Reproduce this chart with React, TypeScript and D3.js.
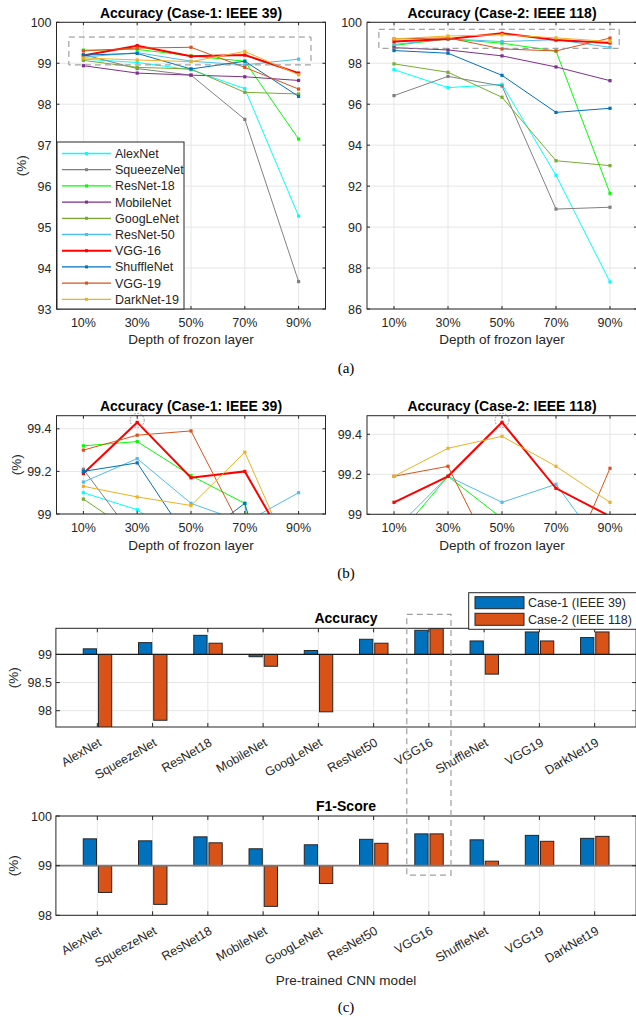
import React, { useEffect, useRef } from "react";
import * as d3 from "d3";

const FONT = "'Liberation Sans', Arial, Helvetica, sans-serif";
const SERIF = "'Liberation Serif', 'Times New Roman', serif";
const INK = "#262626";
const GRID = "#e6e6e6";

// x categories of the line charts
const depthLabels = ["10%", "30%", "50%", "70%", "90%"];

const lineModels = ["AlexNet", "SqueezeNet", "ResNet-18", "MobileNet", "GoogLeNet", "ResNet-50", "VGG-16", "ShuffleNet", "VGG-19", "DarkNet-19"];
const lineColors = ["#00FFFF", "#808080", "#00FF00", "#7E2F8E", "#77AC30", "#4DBEEE", "#FF0000", "#0072BD", "#D95319", "#EDB120"];

// accuracy (%) per frozen depth, Case-1: IEEE 39
const case1Acc = [
  [99.10, 99.02, 98.84, 98.38, 95.27],
  [99.21, 98.87, 98.71, 97.63, 93.67],
  [99.32, 99.34, 99.18, 99.05, 97.15],
  [98.94, 98.76, 98.71, 98.67, 98.58],
  [99.07, 98.90, 98.86, 98.29, 98.25],
  [99.15, 99.26, 99.05, 98.96, 99.10],
  [99.19, 99.43, 99.17, 99.20, 98.76],
  [99.20, 99.24, 98.86, 99.05, 98.19],
  [99.30, 99.37, 99.39, 98.90, 98.37],
  [99.13, 99.08, 99.04, 99.29, 98.72],
];

// accuracy (%) per frozen depth, Case-2: IEEE 118
const case2Acc = [
  [97.69, 96.81, 96.97, 92.53, 87.32],
  [96.42, 97.36, 96.89, 90.88, 90.97],
  [98.87, 99.19, 98.98, 98.60, 91.65],
  [98.76, 98.65, 98.36, 97.82, 97.15],
  [97.97, 97.56, 96.34, 93.24, 93.00],
  [98.92, 99.19, 99.06, 99.15, 98.78],
  [99.06, 99.19, 99.46, 99.13, 98.99],
  [98.62, 98.49, 97.41, 95.60, 95.80],
  [99.19, 99.24, 98.70, 98.60, 99.23],
  [99.19, 99.33, 99.39, 99.24, 99.06],
];

const case1Ticks = [93, 94, 95, 96, 97, 98, 99, 100];
const case2Ticks = [86, 88, 90, 92, 94, 96, 98, 100];
const zoomTicks = [99, 99.2, 99.4];

// bar charts
const barModels = ["AlexNet", "SqueezeNet", "ResNet18", "MobileNet", "GoogLeNet", "ResNet50", "VGG16", "ShuffleNet", "VGG19", "DarkNet19"];
const accCase1 = [99.10, 99.21, 99.34, 98.96, 99.07, 99.27, 99.43, 99.24, 99.40, 99.30];
const accCase2 = [97.69, 97.83, 99.20, 98.79, 97.98, 99.20, 99.46, 98.65, 99.24, 99.40];
const f1Case1 = [99.54, 99.50, 99.58, 99.34, 99.42, 99.53, 99.64, 99.52, 99.61, 99.55];
const f1Case2 = [98.46, 98.22, 99.46, 98.18, 98.64, 99.45, 99.64, 99.09, 99.49, 99.59];
const accTicks = [98, 98.5, 99];
const f1Ticks = [98, 99, 100];
const caseNames = ["Case-1 (IEEE 39)", "Case-2 (IEEE 118)"];
const caseColors = ["#0072BD", "#D95319"];

type Sel = d3.Selection<SVGSVGElement, unknown, null, undefined>;

interface LineCfg {
  id: string;
  left: number; right: number; top: number; bottom: number;
  yDomain: [number, number];
  yTicks: number[];
  series: number[][];
  title: string;
  titleY: number;
  xTickY: number;
  xLabelY: number;
  yLabelX?: number;
  zoomBox?: { x: [number, number]; y: [number, number] };
  circle?: [number, number];
}

function drawLinePanel(svg: Sel, cfg: LineCfg) {
  const x = d3.scaleLinear().domain([0.5, 5.5]).range([cfg.left, cfg.right]);
  const y = d3.scaleLinear().domain(cfg.yDomain).range([cfg.bottom, cfg.top]);
  const g = svg.append("g");

  g.append("rect").attr("x", cfg.left).attr("y", cfg.top)
    .attr("width", cfg.right - cfg.left).attr("height", cfg.bottom - cfg.top).attr("fill", "#fff");

  // grid
  g.selectAll(null).data(cfg.yTicks).enter().append("line")
    .attr("x1", cfg.left).attr("x2", cfg.right)
    .attr("y1", d => y(d)).attr("y2", d => y(d))
    .attr("stroke", GRID);
  g.selectAll(null).data(depthLabels).enter().append("line")
    .attr("x1", (d, i) => x(i + 1)).attr("x2", (d, i) => x(i + 1))
    .attr("y1", cfg.top).attr("y2", cfg.bottom)
    .attr("stroke", GRID);

  svg.append("clipPath").attr("id", cfg.id).append("rect")
    .attr("x", cfg.left).attr("y", cfg.top)
    .attr("width", cfg.right - cfg.left).attr("height", cfg.bottom - cfg.top);
  const lg = g.append("g").attr("clip-path", `url(#${cfg.id})`);

  const line = d3.line<number>().x((d, i) => x(i + 1)).y(d => y(d));
  cfg.series.forEach((vals, k) => {
    lg.append("path").attr("d", line(vals)!)
      .attr("fill", "none").attr("stroke", lineColors[k])
      .attr("stroke-width", k === 6 ? 2 : 1);
    lg.selectAll(null).data(vals).enter().append("rect")
      .attr("x", (d, i) => x(i + 1) - 1.6).attr("y", d => y(d) - 1.6)
      .attr("width", 3.2).attr("height", 3.2).attr("fill", lineColors[k]);
  });

  if (cfg.zoomBox) {
    const b = cfg.zoomBox;
    g.append("rect")
      .attr("x", x(b.x[0])).attr("y", y(b.y[1]))
      .attr("width", x(b.x[1]) - x(b.x[0])).attr("height", y(b.y[0]) - y(b.y[1]))
      .attr("fill", "none").attr("stroke", "#8c8c8c").attr("stroke-width", 1)
      .attr("stroke-dasharray", "6,4");
  }
  if (cfg.circle) {
    g.append("circle")
      .attr("cx", x(cfg.circle[0])).attr("cy", y(cfg.circle[1]) - 2).attr("r", 7)
      .attr("fill", "none").attr("stroke", "#8c8c8c").attr("stroke-dasharray", "1.5,1.5");
  }

  // frame + inward ticks
  g.append("rect").attr("x", cfg.left).attr("y", cfg.top)
    .attr("width", cfg.right - cfg.left).attr("height", cfg.bottom - cfg.top)
    .attr("fill", "none").attr("stroke", INK).attr("stroke-width", 1);
  const tl = 3;
  depthLabels.forEach((d, i) => {
    const xx = x(i + 1);
    g.append("line").attr("x1", xx).attr("x2", xx).attr("y1", cfg.bottom).attr("y2", cfg.bottom - tl).attr("stroke", INK);
    g.append("line").attr("x1", xx).attr("x2", xx).attr("y1", cfg.top).attr("y2", cfg.top + tl).attr("stroke", INK);
  });
  g.selectAll(null).data(depthLabels).enter().append("text")
    .attr("x", (d, i) => x(i + 1)).attr("y", cfg.xTickY)
    .attr("text-anchor", "middle").attr("font-size", 12.5).attr("fill", INK)
    .text(d => d);
  cfg.yTicks.forEach(t => {
    const yy = y(t);
    g.append("line").attr("x1", cfg.left).attr("x2", cfg.left + tl).attr("y1", yy).attr("y2", yy).attr("stroke", INK);
    g.append("line").attr("x1", cfg.right).attr("x2", cfg.right - tl).attr("y1", yy).attr("y2", yy).attr("stroke", INK);
    g.append("text").attr("x", cfg.left - 5).attr("y", yy).attr("dy", "0.36em")
      .attr("text-anchor", "end").attr("font-size", 12.5).attr("fill", INK)
      .text(String(t));
  });

  g.append("text").attr("x", (cfg.left + cfg.right) / 2).attr("y", cfg.titleY)
    .attr("text-anchor", "middle").attr("font-size", 14).attr("font-weight", "bold").attr("fill", "#000")
    .text(cfg.title);
  g.append("text").attr("x", x(3)).attr("y", cfg.xLabelY)
    .attr("text-anchor", "middle").attr("font-size", 13.5).attr("fill", INK)
    .text("Depth of frozon layer");
  if (cfg.yLabelX !== undefined) {
    g.append("text")
      .attr("transform", `translate(${cfg.yLabelX},${(cfg.top + cfg.bottom) / 2}) rotate(-90)`)
      .attr("text-anchor", "middle").attr("font-size", 13.5).attr("fill", INK)
      .text("(%)");
  }
  return { x, y };
}

interface BarCfg {
  id: string;
  top: number; bottom: number;
  yDomain: [number, number];
  yTicks: number[];
  c1: number[]; c2: number[];
  title: string;
  titleY: number;
  baseColor: string;
  baseWidth: number;
}

const BAR_LEFT = 55.9;
const BAR_RIGHT = 636.1;

function drawBarPanel(svg: Sel, cfg: BarCfg) {
  const x = d3.scaleLinear().domain([0.25, 10.75]).range([BAR_LEFT, BAR_RIGHT]);
  const y = d3.scaleLinear().domain(cfg.yDomain).range([cfg.bottom, cfg.top]);
  const g = svg.append("g");
  const w = x(0.24) - x(0);

  g.selectAll(null).data(cfg.yTicks).enter().append("line")
    .attr("x1", BAR_LEFT).attr("x2", BAR_RIGHT)
    .attr("y1", d => y(d)).attr("y2", d => y(d)).attr("stroke", GRID);
  g.selectAll(null).data(barModels).enter().append("line")
    .attr("x1", (d, i) => x(i + 1)).attr("x2", (d, i) => x(i + 1))
    .attr("y1", cfg.top).attr("y2", cfg.bottom).attr("stroke", GRID);

  svg.append("clipPath").attr("id", cfg.id).append("rect")
    .attr("x", BAR_LEFT).attr("y", cfg.top)
    .attr("width", BAR_RIGHT - BAR_LEFT).attr("height", cfg.bottom - cfg.top);
  const bg = g.append("g").attr("clip-path", `url(#${cfg.id})`);

  [cfg.c1, cfg.c2].forEach((vals, s) => {
    const off = s === 0 ? -0.135 : 0.14;
    bg.selectAll(null).data(vals).enter().append("rect")
      .attr("x", (d, i) => x(i + 1 + off) - w / 2)
      .attr("y", d => Math.min(y(d), y(99)))
      .attr("width", w)
      .attr("height", d => Math.abs(y(d) - y(99)))
      .attr("fill", caseColors[s])
      .attr("stroke", INK).attr("stroke-width", 1);
  });

  g.append("line").attr("x1", BAR_LEFT).attr("x2", BAR_RIGHT)
    .attr("y1", y(99)).attr("y2", y(99))
    .attr("stroke", cfg.baseColor).attr("stroke-width", cfg.baseWidth);

  g.append("rect").attr("x", BAR_LEFT).attr("y", cfg.top)
    .attr("width", BAR_RIGHT - BAR_LEFT).attr("height", cfg.bottom - cfg.top)
    .attr("fill", "none").attr("stroke", INK).attr("stroke-width", 1);
  const tl = 4;
  barModels.forEach((m, i) => {
    const xx = x(i + 1);
    g.append("line").attr("x1", xx).attr("x2", xx).attr("y1", cfg.bottom).attr("y2", cfg.bottom - tl).attr("stroke", INK);
    g.append("line").attr("x1", xx).attr("x2", xx).attr("y1", cfg.top).attr("y2", cfg.top + tl).attr("stroke", INK);
    g.append("text")
      .attr("transform", `translate(${xx + 5},${cfg.bottom + 18}) rotate(-30)`)
      .attr("text-anchor", "end").attr("font-size", 12.5).attr("fill", INK)
      .text(m);
  });
  cfg.yTicks.forEach(t => {
    const yy = y(t);
    g.append("line").attr("x1", BAR_LEFT).attr("x2", BAR_LEFT + tl).attr("y1", yy).attr("y2", yy).attr("stroke", INK);
    g.append("line").attr("x1", BAR_RIGHT).attr("x2", BAR_RIGHT - tl).attr("y1", yy).attr("y2", yy).attr("stroke", INK);
    g.append("text").attr("x", BAR_LEFT - 4).attr("y", yy).attr("dy", "0.36em")
      .attr("text-anchor", "end").attr("font-size", 12.5).attr("fill", INK)
      .text(String(t));
  });
  g.append("text")
    .attr("transform", `translate(18,${(cfg.top + cfg.bottom) / 2}) rotate(-90)`)
    .attr("text-anchor", "middle").attr("font-size", 13.5).attr("fill", INK)
    .text("(%)");
  g.append("text").attr("x", (BAR_LEFT + BAR_RIGHT) / 2).attr("y", cfg.titleY)
    .attr("text-anchor", "middle").attr("font-size", 14).attr("font-weight", "bold").attr("fill", "#000")
    .text(cfg.title);
  return { x, y };
}

const App: React.FC = () => {
  const svgRef = useRef<SVGSVGElement | null>(null);

  useEffect(() => {
    if (!svgRef.current) return;
    const svg = d3.select(svgRef.current);
    svg.selectAll("*").remove();
    svg.attr("font-family", FONT);

    // (a) full range
    drawLinePanel(svg, {
      id: "clipA1", left: 56.5, right: 325.5, top: 22.3, bottom: 309,
      yDomain: [93, 100], yTicks: case1Ticks, series: case1Acc,
      title: "Accuracy (Case-1: IEEE 39)", titleY: 18, xTickY: 327, xLabelY: 344, yLabelX: 26,
      zoomBox: { x: [0.73, 5.23], y: [98.96, 99.64] },
    });
    drawLinePanel(svg, {
      id: "clipA2", left: 367, right: 637, top: 22.3, bottom: 309,
      yDomain: [86, 100], yTicks: case2Ticks, series: case2Acc,
      title: "Accuracy (Case-2: IEEE 118)", titleY: 18, xTickY: 327, xLabelY: 344,
      zoomBox: { x: [0.72, 5.17], y: [98.73, 99.66] },
    });

    // legend of (a)
    const leg = svg.append("g");
    leg.append("rect").attr("x", 57).attr("y", 142).attr("width", 127).attr("height", 167)
      .attr("fill", "#fff").attr("stroke", INK).attr("stroke-width", 1);
    lineModels.forEach((m, k) => {
      const yy = 153.5 + k * 16.2;
      leg.append("line").attr("x1", 62).attr("x2", 111).attr("y1", yy).attr("y2", yy)
        .attr("stroke", lineColors[k]).attr("stroke-width", k === 6 ? 2 : 1.3);
      leg.append("rect").attr("x", 85).attr("y", yy - 1.5).attr("width", 3).attr("height", 3).attr("fill", lineColors[k]);
      leg.append("text").attr("x", 115).attr("y", yy).attr("dy", "0.36em")
        .attr("font-size", 12.5).attr("fill", INK).text(m);
    });

    // (b) zoomed
    drawLinePanel(svg, {
      id: "clipB1", left: 56.5, right: 325.5, top: 415.7, bottom: 514,
      yDomain: [99, 99.4615], yTicks: zoomTicks, series: case1Acc,
      title: "Accuracy (Case-1: IEEE 39)", titleY: 411, xTickY: 532, xLabelY: 550, yLabelX: 21,
      circle: [2, 99.43],
    });
    drawLinePanel(svg, {
      id: "clipB2", left: 367, right: 637, top: 415.7, bottom: 514.3,
      yDomain: [99, 99.493], yTicks: zoomTicks, series: case2Acc,
      title: "Accuracy (Case-2: IEEE 118)", titleY: 411, xTickY: 532, xLabelY: 550,
      circle: [3, 99.46],
    });

    // (c) bars
    const acc = drawBarPanel(svg, {
      id: "clipC1", top: 628.3, bottom: 727, yDomain: [97.71, 99.465], yTicks: accTicks,
      c1: accCase1, c2: accCase2, title: "Accuracy", titleY: 623, baseColor: "#1a1a1a", baseWidth: 1.2,
    });
    const f1 = drawBarPanel(svg, {
      id: "clipC2", top: 816, bottom: 915.3, yDomain: [98, 100], yTicks: f1Ticks,
      c1: f1Case1, c2: f1Case2, title: "F1-Score", titleY: 811, baseColor: "#7a7a7a", baseWidth: 1.6,
    });

    // VGG16 highlight box spanning both bar charts
    svg.append("rect")
      .attr("x", acc.x(6.6)).attr("y", 614.3)
      .attr("width", acc.x(7.4) - acc.x(6.6)).attr("height", f1.y(98.81) - 614.3)
      .attr("fill", "none").attr("stroke", "#a0a0a0").attr("stroke-width", 1.2)
      .attr("stroke-dasharray", "6,4");

    // bar legend
    const bl = svg.append("g");
    bl.append("rect").attr("x", 468.7).attr("y", 592.7).attr("width", 175).attr("height", 36.6)
      .attr("fill", "#fff").attr("stroke", INK).attr("stroke-width", 1);
    caseNames.forEach((n, s) => {
      const yy = 602.7 + s * 16.6;
      bl.append("rect").attr("x", 475).attr("y", yy - 6).attr("width", 49).attr("height", 12)
        .attr("fill", caseColors[s]).attr("stroke", INK).attr("stroke-width", 1);
      bl.append("text").attr("x", 528).attr("y", yy).attr("dy", "0.36em")
        .attr("font-size", 12.5).attr("fill", INK).text(n);
    });

    svg.append("text").attr("x", 346).attr("y", 985).attr("text-anchor", "middle")
      .attr("font-size", 13.5).attr("fill", INK).text("Pre-trained CNN model");

    // sub-figure captions
    [["(a)", 373], ["(b)", 578], ["(c)", 1012]].forEach(([t, yy]) => {
      svg.append("text").attr("x", 346).attr("y", yy as number).attr("text-anchor", "middle")
        .attr("font-family", SERIF).attr("font-size", 15).attr("fill", "#000").text(t as string);
    });
  }, []);

  return (
    <svg ref={svgRef} width={636} height={1017}
      style={{ position: "absolute", left: 0, top: 0, background: "#fff" }} />
  );
};

export default App;
